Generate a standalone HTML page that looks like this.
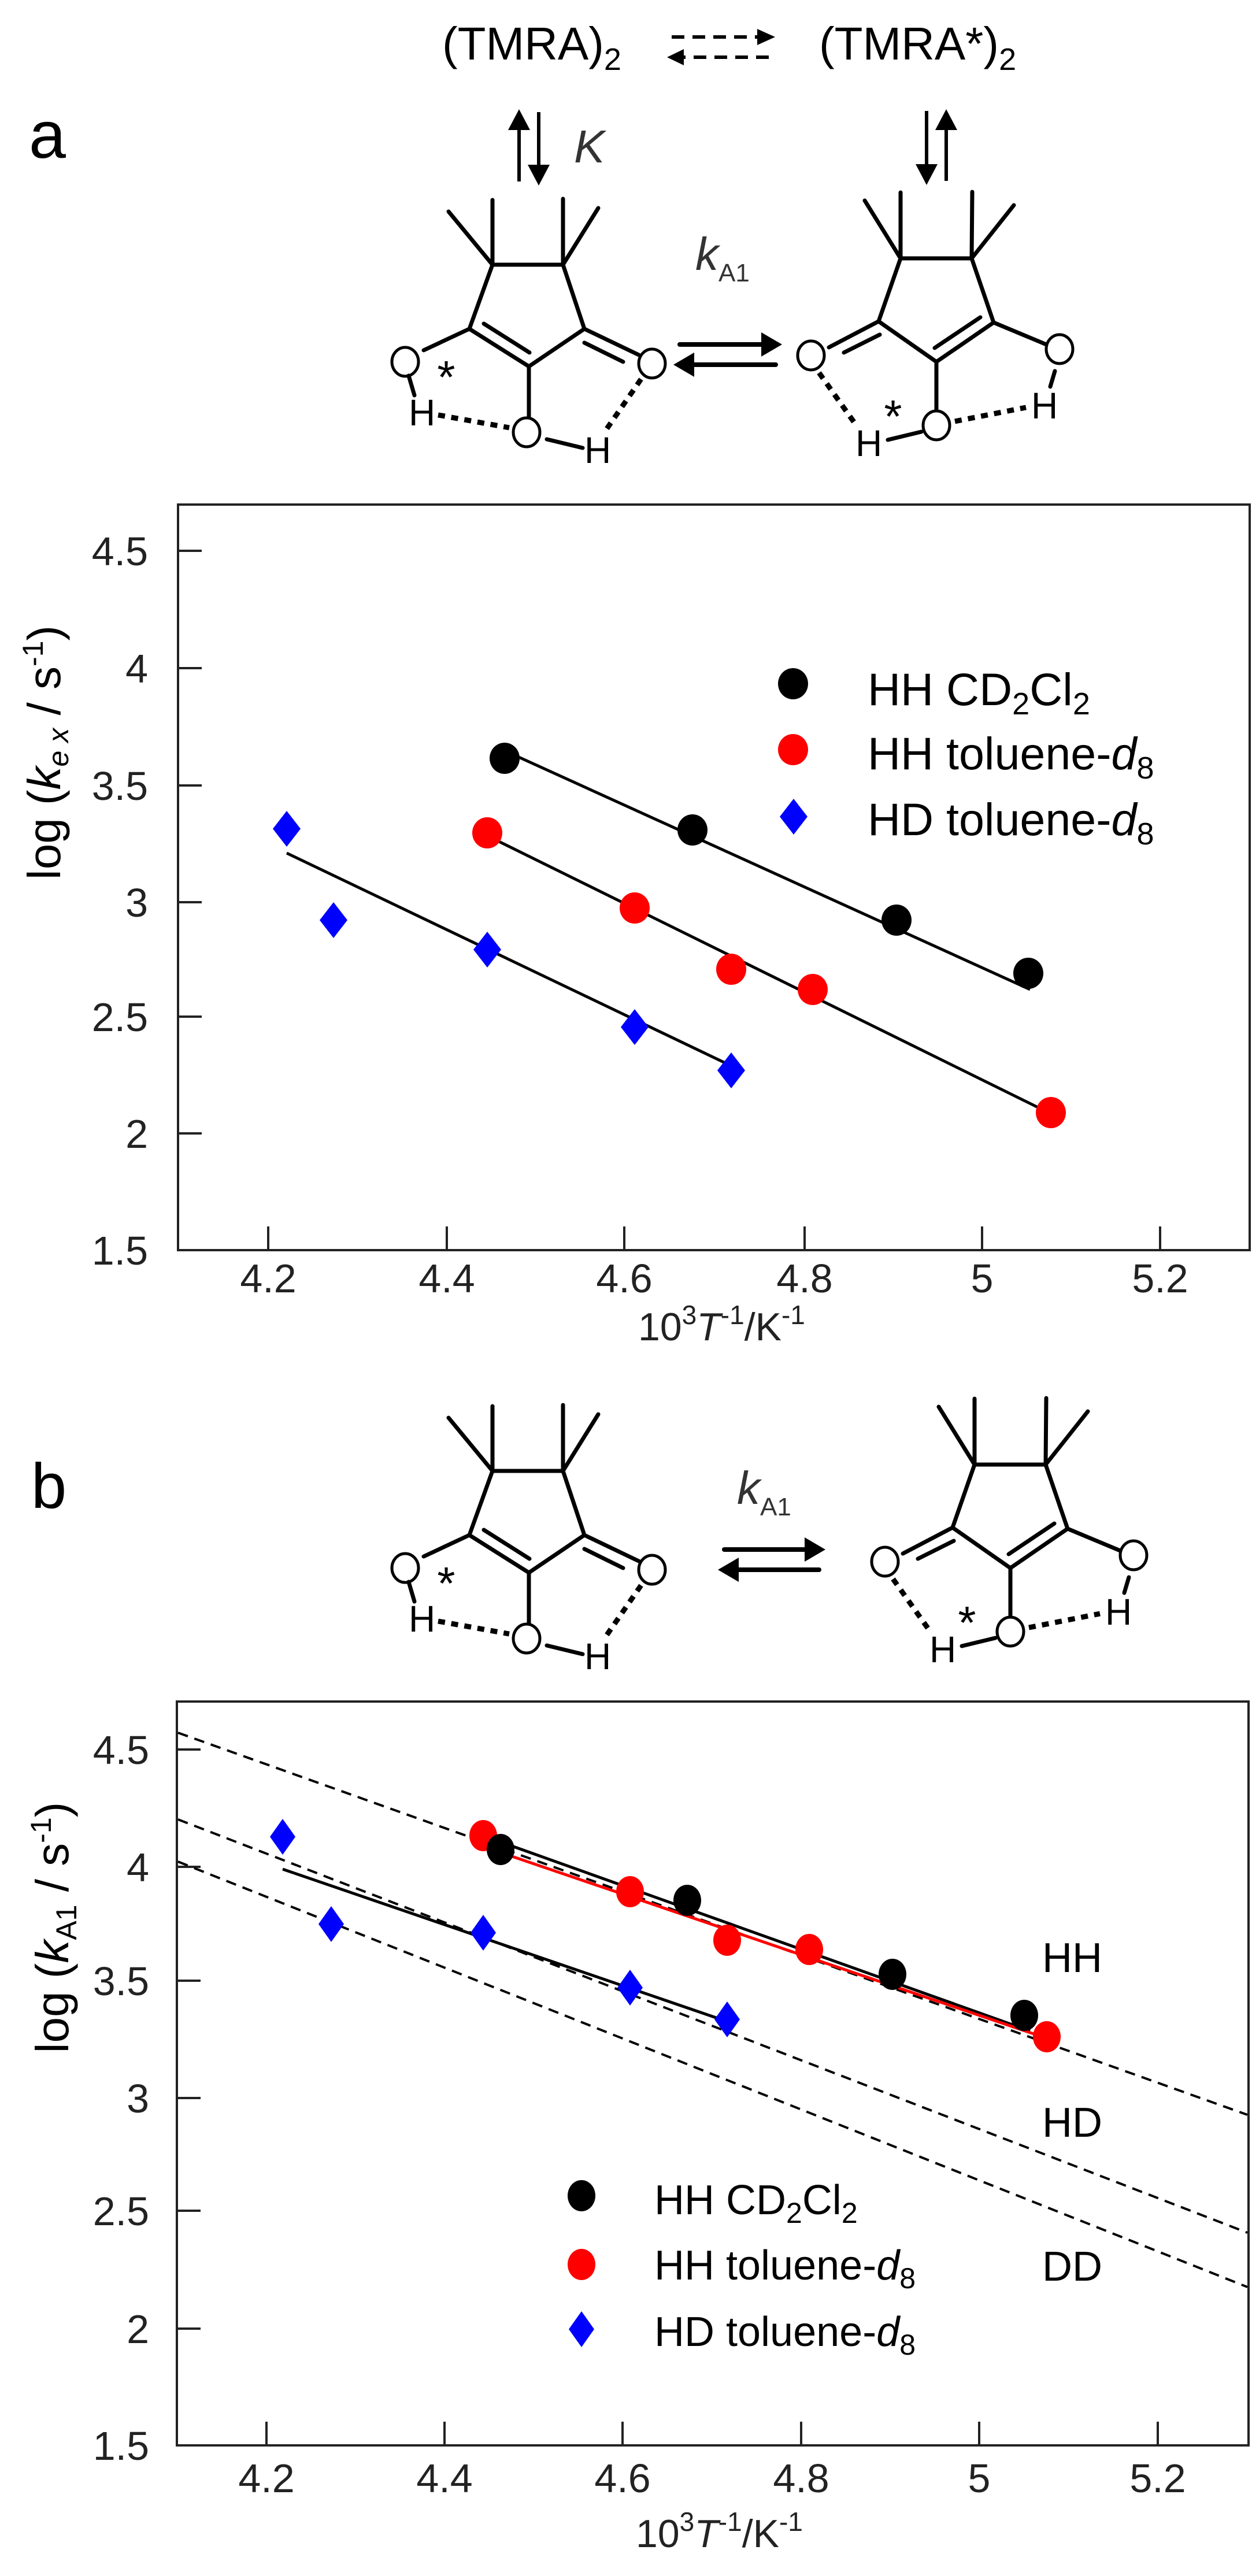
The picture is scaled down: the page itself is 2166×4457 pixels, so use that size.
<!DOCTYPE html>
<html><head><meta charset="utf-8"><style>
html,body{margin:0;padding:0;background:#fff;}
svg{display:block;}
text{font-family:"Liberation Sans",Arial,sans-serif;}
</style></head><body>
<svg width="2166" height="4457" viewBox="0 0 2166 4457" xmlns="http://www.w3.org/2000/svg">
<rect width="2166" height="4457" fill="#fff"/>

<!-- ===== Scheme a ===== -->
<text x="50" y="273" font-size="115" fill="#000">a</text>
<text x="765" y="103" font-size="80" fill="#000">(TMRA)<tspan font-size="54" dy="18">2</tspan></text>
<text x="1417" y="103" font-size="80" fill="#000">(TMRA*)<tspan font-size="54" dy="18">2</tspan></text>
<g stroke="#000" stroke-width="6" fill="none">
  <line x1="1162" y1="64" x2="1312" y2="64" stroke-dasharray="22,14"/>
  <line x1="1330" y1="99" x2="1182" y2="99" stroke-dasharray="22,14"/>
</g>
<polygon points="1341,64 1310,50 1310,78" fill="#000"/>
<polygon points="1154,99 1183,85 1183,113" fill="#000"/>
<g stroke="#000" stroke-width="6">
  <line x1="898" y1="314" x2="898" y2="222"/>
  <line x1="932" y1="194" x2="932" y2="288"/>
  <line x1="1603" y1="192" x2="1603" y2="287"/>
  <line x1="1637" y1="313" x2="1637" y2="222"/>
</g>
<polygon points="898,189 879,225 917,225" fill="#000"/>
<polygon points="932,321 913,285 951,285" fill="#000"/>
<polygon points="1603,320 1584,284 1622,284" fill="#000"/>
<polygon points="1637,189 1618,225 1656,225" fill="#000"/>
<text x="993" y="281" font-size="80" font-style="italic" fill="#333">K</text>
<text x="1203" y="467" font-size="80" font-style="italic" fill="#333">k<tspan font-style="normal" font-size="44" dy="20">A1</tspan></text>
<g stroke="#000" stroke-width="8" stroke-linecap="round">
  <line x1="1176" y1="596" x2="1320" y2="596"/>
  <line x1="1342" y1="631" x2="1198" y2="631"/>
</g>
<polygon points="1353,596 1317,575 1317,617" fill="#000"/>
<polygon points="1165,631 1201,610 1201,652" fill="#000"/>

<g>
<g stroke="#000" stroke-width="7" stroke-linecap="round" fill="none">
  <line x1="852" y1="458" x2="974" y2="458"/>
  <line x1="852" y1="458" x2="812" y2="569"/>
  <line x1="974" y1="458" x2="1011" y2="569"/>
  <line x1="812" y1="569" x2="915" y2="634"/>
  <line x1="1011" y1="569" x2="915" y2="634"/>
  <line x1="852" y1="458" x2="852" y2="346"/>
  <line x1="852" y1="458" x2="776" y2="366"/>
  <line x1="974" y1="458" x2="974" y2="344"/>
  <line x1="974" y1="458" x2="1035" y2="360"/>
  <line x1="837" y1="560" x2="916" y2="610"/>
  <line x1="812" y1="569" x2="733" y2="606"/>
  <line x1="1011" y1="569" x2="1105" y2="614"/>
  <line x1="1011" y1="593" x2="1078" y2="626"/>
  <line x1="915" y1="634" x2="915" y2="722"/>
  <line x1="707" y1="650" x2="717" y2="684"/>
  <line x1="946" y1="760" x2="1008" y2="775"/>
</g>
<g stroke="#000" stroke-width="9" stroke-dasharray="12,11" fill="none">
  <line x1="758" y1="718" x2="881" y2="740"/>
  <line x1="1109" y1="656" x2="1049" y2="743"/>
</g>
<g stroke="#000" stroke-width="5" fill="none">
  <ellipse cx="701" cy="626" rx="23" ry="25"/>
  <ellipse cx="1128" cy="629" rx="23" ry="25"/>
  <ellipse cx="911" cy="748" rx="23" ry="25"/>
</g>
<text x="707" y="736" font-size="64" fill="#000">H</text>
<text x="1011" y="801" font-size="64" fill="#000">H</text>
<text x="772" y="680" font-size="80" text-anchor="middle" fill="#000">*</text>
</g>

<g>
<g stroke="#000" stroke-width="7" stroke-linecap="round" fill="none">
  <line x1="1558" y1="447" x2="1681" y2="447"/>
  <line x1="1558" y1="447" x2="1520" y2="556"/>
  <line x1="1681" y1="447" x2="1719" y2="558"/>
  <line x1="1520" y1="556" x2="1620" y2="626"/>
  <line x1="1719" y1="558" x2="1620" y2="626"/>
  <line x1="1558" y1="447" x2="1558" y2="333"/>
  <line x1="1558" y1="447" x2="1496" y2="347"/>
  <line x1="1681" y1="447" x2="1682" y2="332"/>
  <line x1="1681" y1="447" x2="1754" y2="355"/>
  <line x1="1617" y1="602" x2="1696" y2="549"/>
  <line x1="1520" y1="556" x2="1434" y2="601"/>
  <line x1="1522" y1="579" x2="1460" y2="610"/>
  <line x1="1719" y1="558" x2="1810" y2="596"/>
  <line x1="1620" y1="626" x2="1620" y2="710"/>
  <line x1="1825" y1="642" x2="1817" y2="669"/>
  <line x1="1536" y1="761" x2="1594" y2="747"/>
</g>
<g stroke="#000" stroke-width="9" stroke-dasharray="12,11" fill="none">
  <line x1="1652" y1="729" x2="1775" y2="705"/>
  <line x1="1417" y1="645" x2="1480" y2="734"/>
</g>
<g stroke="#000" stroke-width="5" fill="none">
  <ellipse cx="1403" cy="615" rx="23" ry="25"/>
  <ellipse cx="1833" cy="604" rx="23" ry="25"/>
  <ellipse cx="1620" cy="736" rx="23" ry="25"/>
</g>
<text x="1784" y="724" font-size="64" fill="#000">H</text>
<text x="1480" y="789" font-size="64" fill="#000">H</text>
<text x="1545" y="748" font-size="80" text-anchor="middle" fill="#000">*</text>
</g>

<!-- ===== Plot a ===== -->
<g stroke="#222" stroke-width="4" fill="none">
  <rect x="308" y="873" width="1854" height="1290"/>
  <line x1="308" y1="953" x2="349" y2="953"/>
  <line x1="308" y1="1156" x2="349" y2="1156"/>
  <line x1="308" y1="1359" x2="349" y2="1359"/>
  <line x1="308" y1="1561" x2="349" y2="1561"/>
  <line x1="308" y1="1759" x2="349" y2="1759"/>
  <line x1="308" y1="1961" x2="349" y2="1961"/>
  <line x1="464" y1="2163" x2="464" y2="2122"/>
  <line x1="773" y1="2163" x2="773" y2="2122"/>
  <line x1="1080" y1="2163" x2="1080" y2="2122"/>
  <line x1="1392" y1="2163" x2="1392" y2="2122"/>
  <line x1="1699" y1="2163" x2="1699" y2="2122"/>
  <line x1="2007" y1="2163" x2="2007" y2="2122"/>
</g>
<g font-size="70" fill="#222" text-anchor="end">
  <text x="256" y="978">4.5</text>
  <text x="256" y="1181">4</text>
  <text x="256" y="1384">3.5</text>
  <text x="256" y="1586">3</text>
  <text x="256" y="1784">2.5</text>
  <text x="256" y="1986">2</text>
  <text x="256" y="2188">1.5</text>
</g>
<g font-size="70" fill="#222" text-anchor="middle">
  <text x="464" y="2236">4.2</text>
  <text x="773" y="2236">4.4</text>
  <text x="1080" y="2236">4.6</text>
  <text x="1392" y="2236">4.8</text>
  <text x="1699" y="2236">5</text>
  <text x="2007" y="2236">5.2</text>
</g>
<text x="1104" y="2319" font-size="68" fill="#222">10<tspan font-size="46" dy="-28">3</tspan><tspan font-style="italic" dy="28">T</tspan><tspan font-size="46" dy="-28">-1</tspan><tspan dy="28">/K</tspan><tspan font-size="46" dy="-28">-1</tspan></text>
<text transform="translate(104,1302) rotate(-90)" font-size="80" text-anchor="middle" fill="#000">log (<tspan font-style="italic">k</tspan><tspan font-size="50" dy="14" font-style="italic">e x</tspan><tspan dy="-14"> / s</tspan><tspan font-size="50" dy="-30">-1</tspan><tspan dy="30">)</tspan></text>
<g stroke="#000" stroke-width="5">
  <line x1="880" y1="1302" x2="1782" y2="1712"/>
  <line x1="843" y1="1446" x2="1818" y2="1927"/>
  <line x1="496" y1="1476" x2="1269" y2="1846"/>
</g>
<g fill="#000">
  <ellipse cx="873" cy="1312" rx="26" ry="27"/>
  <ellipse cx="1198" cy="1436" rx="26" ry="27"/>
  <ellipse cx="1551" cy="1592" rx="26" ry="27"/>
  <ellipse cx="1779" cy="1684" rx="26" ry="27"/>
  <ellipse cx="1372" cy="1183" rx="26" ry="27"/>
</g>
<g fill="#f00">
  <ellipse cx="843" cy="1441" rx="26" ry="27"/>
  <ellipse cx="1098" cy="1571" rx="26" ry="27"/>
  <ellipse cx="1265" cy="1677" rx="26" ry="27"/>
  <ellipse cx="1406" cy="1712" rx="26" ry="27"/>
  <ellipse cx="1818" cy="1925" rx="26" ry="27"/>
  <ellipse cx="1372" cy="1297" rx="26" ry="27"/>
</g>
<g fill="#00f">
  <polygon points="496,1403 520,1434 496,1465 472,1434"/>
  <polygon points="577,1561 601,1592 577,1623 553,1592"/>
  <polygon points="843,1612 867,1643 843,1674 819,1643"/>
  <polygon points="1098,1746 1122,1777 1098,1808 1074,1777"/>
  <polygon points="1265,1821 1289,1852 1265,1883 1241,1852"/>
  <polygon points="1373,1382 1397,1413 1373,1444 1349,1413"/>
</g>
<g font-size="79" fill="#000">
  <text x="1501" y="1220">HH CD<tspan font-size="54" dy="16">2</tspan><tspan dy="-16">Cl</tspan><tspan font-size="54" dy="16">2</tspan></text>
  <text x="1501" y="1331">HH toluene-<tspan font-style="italic">d</tspan><tspan font-size="54" dy="16">8</tspan></text>
  <text x="1501" y="1445">HD toluene-<tspan font-style="italic">d</tspan><tspan font-size="54" dy="16">8</tspan></text>
</g>

<!-- ===== Scheme b ===== -->
<text x="54" y="2609" font-size="110" fill="#000">b</text>
<g transform="translate(0,2087)">
<g stroke="#000" stroke-width="7" stroke-linecap="round" fill="none">
  <line x1="852" y1="458" x2="974" y2="458"/>
  <line x1="852" y1="458" x2="812" y2="569"/>
  <line x1="974" y1="458" x2="1011" y2="569"/>
  <line x1="812" y1="569" x2="915" y2="634"/>
  <line x1="1011" y1="569" x2="915" y2="634"/>
  <line x1="852" y1="458" x2="852" y2="346"/>
  <line x1="852" y1="458" x2="776" y2="366"/>
  <line x1="974" y1="458" x2="974" y2="344"/>
  <line x1="974" y1="458" x2="1035" y2="360"/>
  <line x1="837" y1="560" x2="916" y2="610"/>
  <line x1="812" y1="569" x2="733" y2="606"/>
  <line x1="1011" y1="569" x2="1105" y2="614"/>
  <line x1="1011" y1="593" x2="1078" y2="626"/>
  <line x1="915" y1="634" x2="915" y2="722"/>
  <line x1="707" y1="650" x2="717" y2="684"/>
  <line x1="946" y1="760" x2="1008" y2="775"/>
</g>
<g stroke="#000" stroke-width="9" stroke-dasharray="12,11" fill="none">
  <line x1="758" y1="718" x2="881" y2="740"/>
  <line x1="1109" y1="656" x2="1049" y2="743"/>
</g>
<g stroke="#000" stroke-width="5" fill="none">
  <ellipse cx="701" cy="626" rx="23" ry="25"/>
  <ellipse cx="1128" cy="629" rx="23" ry="25"/>
  <ellipse cx="911" cy="748" rx="23" ry="25"/>
</g>
<text x="707" y="736" font-size="64" fill="#000">H</text>
<text x="1011" y="801" font-size="64" fill="#000">H</text>
<text x="772" y="680" font-size="80" text-anchor="middle" fill="#000">*</text>
</g>
<g transform="translate(128,2087)">
<g stroke="#000" stroke-width="7" stroke-linecap="round" fill="none">
  <line x1="1558" y1="447" x2="1681" y2="447"/>
  <line x1="1558" y1="447" x2="1520" y2="556"/>
  <line x1="1681" y1="447" x2="1719" y2="558"/>
  <line x1="1520" y1="556" x2="1620" y2="626"/>
  <line x1="1719" y1="558" x2="1620" y2="626"/>
  <line x1="1558" y1="447" x2="1558" y2="333"/>
  <line x1="1558" y1="447" x2="1496" y2="347"/>
  <line x1="1681" y1="447" x2="1682" y2="332"/>
  <line x1="1681" y1="447" x2="1754" y2="355"/>
  <line x1="1617" y1="602" x2="1696" y2="549"/>
  <line x1="1520" y1="556" x2="1434" y2="601"/>
  <line x1="1522" y1="579" x2="1460" y2="610"/>
  <line x1="1719" y1="558" x2="1810" y2="596"/>
  <line x1="1620" y1="626" x2="1620" y2="710"/>
  <line x1="1825" y1="642" x2="1817" y2="669"/>
  <line x1="1536" y1="761" x2="1594" y2="747"/>
</g>
<g stroke="#000" stroke-width="9" stroke-dasharray="12,11" fill="none">
  <line x1="1652" y1="729" x2="1775" y2="705"/>
  <line x1="1417" y1="645" x2="1480" y2="734"/>
</g>
<g stroke="#000" stroke-width="5" fill="none">
  <ellipse cx="1403" cy="615" rx="23" ry="25"/>
  <ellipse cx="1833" cy="604" rx="23" ry="25"/>
  <ellipse cx="1620" cy="736" rx="23" ry="25"/>
</g>
<text x="1784" y="724" font-size="64" fill="#000">H</text>
<text x="1480" y="789" font-size="64" fill="#000">H</text>
<text x="1545" y="748" font-size="80" text-anchor="middle" fill="#000">*</text>
</g>
<text x="1275" y="2602" font-size="80" font-style="italic" fill="#333">k<tspan font-style="normal" font-size="44" dy="20">A1</tspan></text>
<g stroke="#000" stroke-width="8" stroke-linecap="round">
  <line x1="1253" y1="2681" x2="1395" y2="2681"/>
  <line x1="1417" y1="2716" x2="1275" y2="2716"/>
</g>
<polygon points="1428,2681 1392,2660 1392,2702" fill="#000"/>
<polygon points="1242,2716 1278,2695 1278,2737" fill="#000"/>

<!-- ===== Plot b ===== -->
<g stroke="#222" stroke-width="4" fill="none">
  <rect x="306" y="2944" width="1854" height="1287"/>
  <line x1="306" y1="3027" x2="347" y2="3027"/>
  <line x1="306" y1="3230" x2="347" y2="3230"/>
  <line x1="306" y1="3427" x2="347" y2="3427"/>
  <line x1="306" y1="3630" x2="347" y2="3630"/>
  <line x1="306" y1="3825" x2="347" y2="3825"/>
  <line x1="306" y1="4029" x2="347" y2="4029"/>
  <line x1="461" y1="4231" x2="461" y2="4190"/>
  <line x1="769" y1="4231" x2="769" y2="4190"/>
  <line x1="1077" y1="4231" x2="1077" y2="4190"/>
  <line x1="1386" y1="4231" x2="1386" y2="4190"/>
  <line x1="1694" y1="4231" x2="1694" y2="4190"/>
  <line x1="2003" y1="4231" x2="2003" y2="4190"/>
</g>
<g font-size="70" fill="#222" text-anchor="end">
  <text x="258" y="3052">4.5</text>
  <text x="258" y="3255">4</text>
  <text x="258" y="3452">3.5</text>
  <text x="258" y="3655">3</text>
  <text x="258" y="3850">2.5</text>
  <text x="258" y="4054">2</text>
  <text x="258" y="4256">1.5</text>
</g>
<g font-size="70" fill="#222" text-anchor="middle">
  <text x="461" y="4312">4.2</text>
  <text x="769" y="4312">4.4</text>
  <text x="1077" y="4312">4.6</text>
  <text x="1386" y="4312">4.8</text>
  <text x="1694" y="4312">5</text>
  <text x="2003" y="4312">5.2</text>
</g>
<text x="1100" y="4407" font-size="68" fill="#222">10<tspan font-size="46" dy="-28">3</tspan><tspan font-style="italic" dy="28">T</tspan><tspan font-size="46" dy="-28">-1</tspan><tspan dy="28">/K</tspan><tspan font-size="46" dy="-28">-1</tspan></text>
<text transform="translate(118,3335) rotate(-90)" font-size="80" text-anchor="middle" fill="#000">log (<tspan font-style="italic">k</tspan><tspan font-size="50" dy="14">A1</tspan><tspan dy="-14"> / s</tspan><tspan font-size="50" dy="-30">-1</tspan><tspan dy="30">)</tspan></text>
<g stroke="#000" stroke-width="4" stroke-dasharray="18,12" fill="none">
  <line x1="308" y1="2998" x2="2158" y2="3659"/>
  <line x1="308" y1="3148" x2="2158" y2="3863"/>
  <line x1="308" y1="3221" x2="2158" y2="3957"/>
</g>
<g stroke-width="5">
  <line x1="866" y1="3187" x2="1782" y2="3514" stroke="#000"/>
  <line x1="836" y1="3195" x2="1803" y2="3524" stroke="#f00"/>
  <line x1="489" y1="3234" x2="1265" y2="3500" stroke="#000"/>
</g>
<g fill="#f00">
  <ellipse cx="836" cy="3176" rx="24" ry="27"/>
  <ellipse cx="1090" cy="3273" rx="24" ry="27"/>
  <ellipse cx="1258" cy="3357" rx="24" ry="27"/>
  <ellipse cx="1400" cy="3373" rx="24" ry="27"/>
  <ellipse cx="1811" cy="3524" rx="24" ry="27"/>
  <ellipse cx="1006" cy="3918" rx="24" ry="27"/>
</g>
<g fill="#000">
  <ellipse cx="866" cy="3200" rx="24" ry="27"/>
  <ellipse cx="1189" cy="3288" rx="24" ry="27"/>
  <ellipse cx="1544" cy="3416" rx="24" ry="27"/>
  <ellipse cx="1772" cy="3487" rx="24" ry="27"/>
  <ellipse cx="1006" cy="3799" rx="24" ry="27"/>
</g>
<g fill="#00f">
  <polygon points="489,3147 511,3178 489,3209 467,3178"/>
  <polygon points="573,3298 595,3329 573,3360 551,3329"/>
  <polygon points="836,3313 858,3344 836,3375 814,3344"/>
  <polygon points="1090,3408 1112,3439 1090,3470 1068,3439"/>
  <polygon points="1258,3463 1280,3494 1258,3525 1236,3494"/>
  <polygon points="1006,3999 1028,4030 1006,4061 984,4030"/>
</g>
<g font-size="72" fill="#000">
  <text x="1803" y="3412">HH</text>
  <text x="1803" y="3697">HD</text>
  <text x="1803" y="3946">DD</text>
  <text x="1132" y="3831">HH CD<tspan font-size="50" dy="15">2</tspan><tspan dy="-15">Cl</tspan><tspan font-size="50" dy="15">2</tspan></text>
  <text x="1132" y="3944">HH toluene-<tspan font-style="italic">d</tspan><tspan font-size="50" dy="15">8</tspan></text>
  <text x="1132" y="4059">HD toluene-<tspan font-style="italic">d</tspan><tspan font-size="50" dy="15">8</tspan></text>
</g>
</svg>
</body></html>
